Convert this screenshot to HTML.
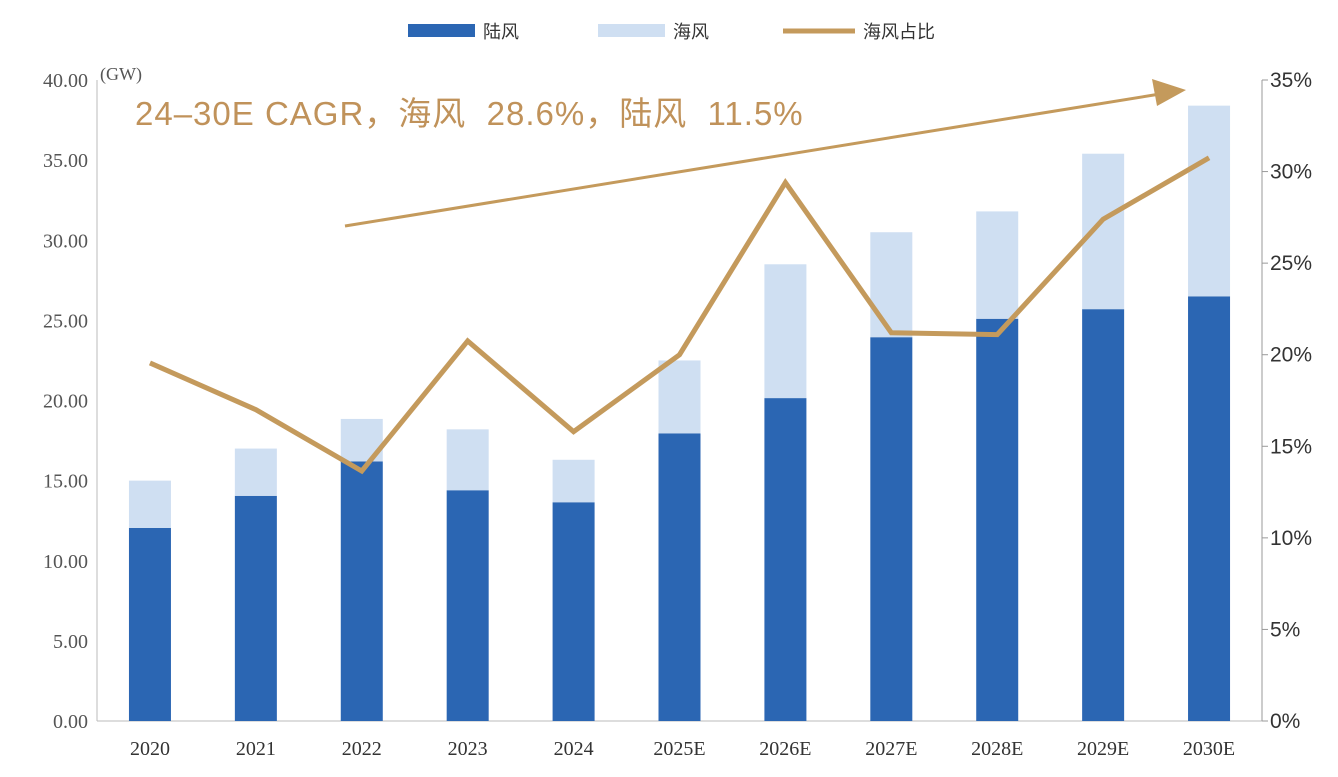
<!DOCTYPE html>
<html><head><meta charset="utf-8"><style>
body{margin:0;background:#fff;}
svg{display:block;}
</style></head><body>
<svg id="chart" width="1338" height="777" xmlns="http://www.w3.org/2000/svg">
</svg>
<script>
const categories=["2020","2021","2022","2023","2024","2025E","2026E","2027E","2028E","2029E","2030E"];
const onshore=[12.05,14.05,16.2,14.4,13.65,17.95,20.15,23.95,25.1,25.7,26.5];
const offshore=[2.95,2.95,2.65,3.8,2.65,4.55,8.35,6.55,6.7,9.7,11.9];
const shareTotal=[19.55,17.0,13.65,20.75,15.8,20.0,29.4,21.2,21.1,27.4,30.75];
const leftTicks=["0.00","5.00","10.00","15.00","20.00","25.00","30.00","35.00","40.00"];
const rightTicks=["0%","5%","10%","15%","20%","25%","30%","35%"];

const NS="http://www.w3.org/2000/svg";
const svg=document.getElementById('chart');
const x0=97,x1=1262,yB=721,yT=80;
const yL=v=>yB-(v/40)*(yB-yT);
const yR=p=>yB-(p/35)*(yB-yT);
const step=(x1-x0)/categories.length;
const xc=i=>x0+step*(i+0.5);
const bw=42;
function mk(tag,attrs,parent){const e=document.createElementNS(NS,tag);for(const k in attrs)e.setAttribute(k,attrs[k]);(parent||svg).appendChild(e);return e;}

let a=mk('line',{x1:x0,y1:yT,x2:x0,y2:yB,stroke:'#bbb','stroke-width':1});


a=mk('line',{x1:x0,y1:yB,x2:x1,y2:yB,stroke:'#bbb','stroke-width':1});


a=mk('line',{x1:x1,y1:yT,x2:x1,y2:yB,stroke:'#999','stroke-width':1});



leftTicks.forEach((t,i)=>{
  const e=mk('text',{x:88,y:yL(i*5)+7,'text-anchor':'end','font-family':'Liberation Serif, serif','font-size':20,fill:'#555'});
  e.textContent=t;
  
  
});
rightTicks.forEach((t,i)=>{
  const y=yR(i*5);
  const tk=mk('line',{x1:x1,y1:y,x2:x1+6,y2:y,stroke:'#999'});
  
  
  const e=mk('text',{x:1270,y:y+7,'font-family':'Liberation Sans, sans-serif','font-size':21,fill:'#333'});
  e.textContent=t;
  
  
});
const unit=mk('text',{x:100,y:80,'font-family':'Liberation Serif, serif','font-size':18,fill:'#555'});
unit.textContent='(GW)';



categories.forEach((c,i)=>{
  const x=xc(i);
  const b1=mk('rect',{x:x-bw/2,y:yL(onshore[i]),width:bw,height:yB-yL(onshore[i]),fill:'#2b66b3'});
  
  
  const top=onshore[i]+offshore[i];
  const b2=mk('rect',{x:x-bw/2,y:yL(top),width:bw,height:yL(onshore[i])-yL(top),fill:'#cfdff2'});
  
  
  const t=mk('text',{x:x,y:755,'text-anchor':'middle','font-family':'Liberation Serif, serif','font-size':20,fill:'#333'});
  t.textContent=c;
  
  
});

const pts=shareTotal.map((p,i)=>xc(i)+','+yR(p)).join(' ');
const ln=mk('polyline',{points:pts,fill:'none',stroke:'#c49a5c','stroke-width':5,'stroke-linejoin':'miter'});



const arr=mk('line',{x1:345,y1:226,x2:1160,y2:94,stroke:'#c49a5c','stroke-width':3});


const head=mk('polygon',{points:'1186,90 1152,79 1157,106',fill:'#c49a5c'});


const ann=mk('text',{x:135,y:125,'font-family':'Liberation Sans, Noto Sans CJK SC, sans-serif','font-size':33,'letter-spacing':1,fill:'#c0925a','xml:space':'preserve'});
ann.setAttribute('style','white-space:pre');
ann.textContent='24–30E CAGR，海风  28.6%，陆风  11.5%';



const lg=[[408,'#2b66b3','陆风','rect'],[598,'#cfdff2','海风','rect'],[783,'#c49a5c','海风占比','line']];
lg.forEach(l=>{
  let m;
  if(l[3]==='rect') m=mk('rect',{x:l[0],y:24,width:67,height:13,fill:l[1]});
  else m=mk('line',{x1:l[0],y1:31,x2:l[0]+72,y2:31,stroke:l[1],'stroke-width':5});
  
  
  const t=mk('text',{x:l[0]+(l[3]==='rect'?75:80),y:38,'font-family':'Liberation Sans, Noto Sans CJK SC, sans-serif','font-size':18,fill:'#333'});
  t.textContent=l[2];
  
  
});
</script>
</body></html>
